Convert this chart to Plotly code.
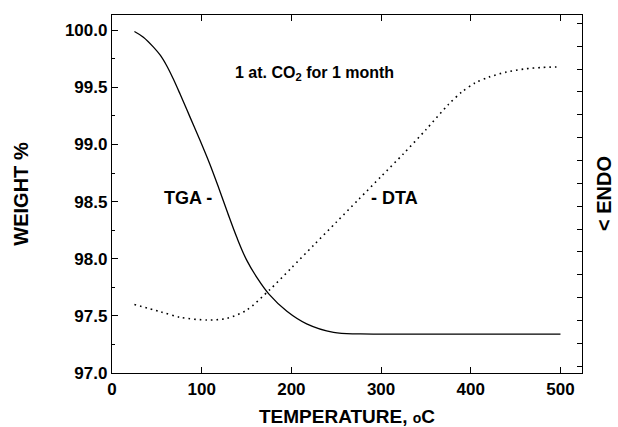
import plotly.graph_objects as go

# TGA curve (weight %) vs temperature
tga_t = [25, 35, 46, 54, 61, 68, 76, 87, 98, 109, 119, 129, 139, 150, 162, 175, 195, 217, 247, 277, 350, 420, 500]
tga_w = [99.99, 99.94, 99.855, 99.78, 99.69, 99.58, 99.44, 99.24, 99.04, 98.83, 98.62, 98.40, 98.19, 97.99, 97.83, 97.69, 97.54, 97.43, 97.355, 97.342, 97.34, 97.34, 97.34]

# DTA curve (plotted on same scale)
dta_t = [25, 54, 76, 106, 128, 150, 176, 200, 225, 250, 275, 300, 325, 350, 375, 390, 405, 420, 440, 460, 480, 500]
dta_w = [97.60, 97.536, 97.487, 97.464, 97.478, 97.55, 97.73, 97.92, 98.12, 98.32, 98.52, 98.72, 98.92, 99.13, 99.35, 99.46, 99.54, 99.59, 99.635, 99.662, 99.675, 99.68]

x_ticks = [0, 100, 200, 300, 400, 500]
y_ticks = [97.0, 97.5, 98.0, 98.5, 99.0, 99.5, 100.0]
y_labels = ["97.0", "97.5", "98.0", "98.5", "99.0", "99.5", "100.0"]

FONT = "Liberation Sans"

fig = go.Figure()
fig.add_trace(go.Scatter(x=tga_t, y=tga_w, mode="lines",
                         line=dict(color="black", width=1.3, shape="spline", smoothing=1.0), showlegend=False))
fig.add_trace(go.Scatter(x=dta_t, y=dta_w, mode="lines",
                         line=dict(color="black", width=1.6, shape="spline", smoothing=0.8, dash="1.6px,4px"), showlegend=False))
# invisible trace for right axis ticks
fig.add_trace(go.Scatter(x=[0], y=[98], yaxis="y2", mode="markers", marker=dict(opacity=0),
                         showlegend=False, hoverinfo="skip"))

yr = [97.0, 100.134]
fig.update_layout(
    width=618, height=427,
    margin=dict(l=112, r=36, t=15, b=54),
    paper_bgcolor="white", plot_bgcolor="white",
    font=dict(family=FONT, color="black"),
    xaxis=dict(range=[0, 524], tickvals=x_ticks, ticktext=["<b>%d</b>" % v for v in x_ticks],
               ticks="inside", ticklen=6, tickwidth=1, tickcolor="black",
               showline=True, linecolor="black", linewidth=1.3, mirror="ticks",
               showgrid=False, zeroline=False, automargin=False,
               tickfont=dict(size=17, family=FONT),
               title=dict(text="<b>TEMPERATURE, <span style='font-size:14px'>o</span>C</b>",
                          font=dict(size=19, family=FONT), standoff=15)),
    yaxis=dict(range=yr, tickvals=y_ticks, ticktext=["<b>%s</b>" % s for s in y_labels],
               ticks="inside", ticklen=6, tickwidth=1, tickcolor="black",
               showline=True, linecolor="black", linewidth=1.3, mirror=True,
               showgrid=False, zeroline=False, automargin=False,
               minor=dict(dtick=0.25, tick0=97.0, ticks="inside", ticklen=3, tickcolor="black"),
               tickfont=dict(size=17, family=FONT),
               title=dict(text="<b>WEIGHT %</b>", font=dict(size=20, family=FONT), standoff=30)),
    yaxis2=dict(range=yr, overlaying="y", side="right", tick0=97.06, dtick=0.2,
                ticks="inside", ticklen=5, tickcolor="black", showticklabels=False,
                showgrid=False, zeroline=False, showline=False, automargin=False),
)

fig.add_annotation(x=226, y=99.62, xref="x", yref="y", text="<b>1 at. CO<sub>2</sub> for 1 month</b>",
                   showarrow=False, font=dict(size=16, family=FONT))
fig.add_annotation(x=114, y=98.53, xref="x", yref="y", text="<b>TGA -</b>", xanchor="right",
                   showarrow=False, font=dict(size=18, family=FONT))
fig.add_annotation(x=286, y=98.53, xref="x", yref="y", text="<b>- DTA</b>", xanchor="left",
                   showarrow=False, font=dict(size=18, family=FONT))
fig.add_annotation(x=1.0, y=0.5, xref="paper", yref="paper", xanchor="center", xshift=22,
                   text="<b>&lt; ENDO</b>", textangle=-90,
                   showarrow=False, font=dict(size=20, family=FONT))

fig.write_html("out.html")
